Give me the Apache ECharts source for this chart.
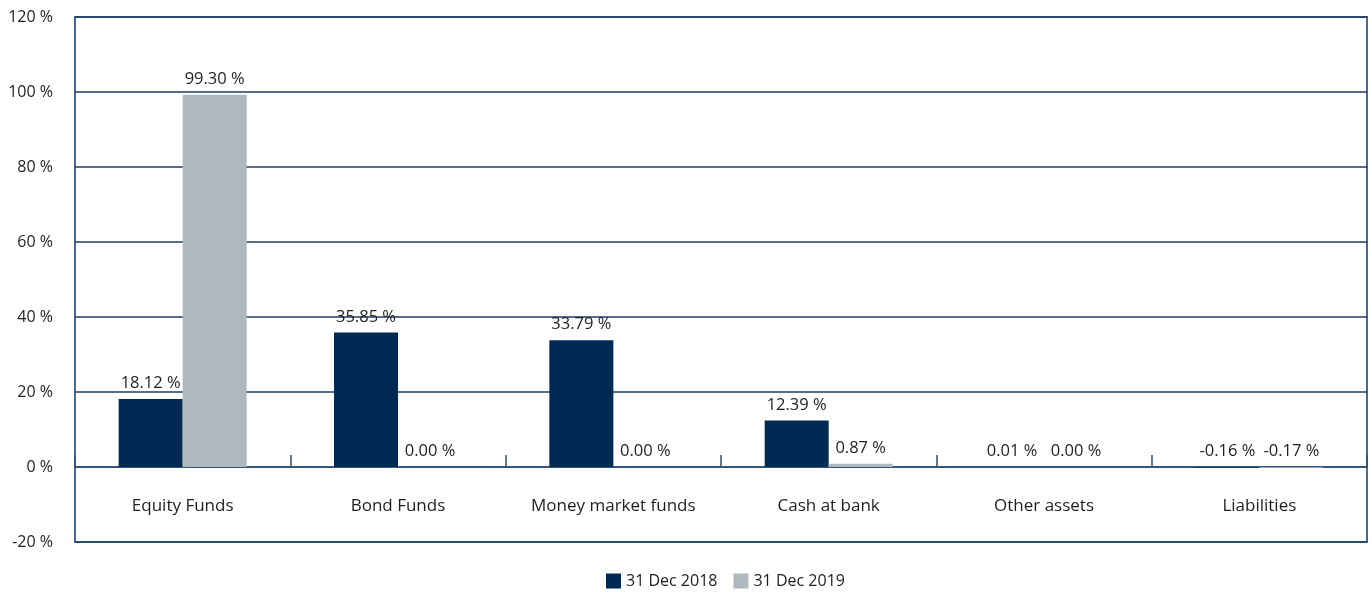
<!DOCTYPE html>
<html>
<head>
<meta charset="utf-8">
<script src="https://cdn.jsdelivr.net/npm/echarts@6/dist/echarts.min.js"></script>
<style>html,body{margin:0;padding:0;background:#fff}#c{width:1372px;height:592px}</style>
</head>
<body>
<div id="c"></div>
<script>
var categories = ['Equity Funds','Bond Funds','Money market funds','Cash at bank','Other assets','Liabilities'];
var series2018 = [18.12, 35.85, 33.79, 12.39, 0.01, -0.16];
var series2019 = [99.30, 0.00, 0.00, 0.87, 0.00, -0.17];
var seriesNames = ['31 Dec 2018','31 Dec 2019'];
var yTicks = {min: -20, max: 120, interval: 20};

var FONT = '"Open Sans", "Noto Sans", sans-serif';
var chart = echarts.init(document.getElementById('c'));
function fmt(p){ return p.value.toFixed(2) + ' %'; }
var labelCfg = {show:true, position:'top', distance:7, formatter:fmt, color:'#1e1e1e', fontSize:16.5, fontFamily:FONT};
chart.setOption({
  animation:false,
  grid:{left:75, right:5, top:17, bottom:50, show:true, borderColor:'#4b6a8f', borderWidth:2},
  legend:{
    data:seriesNames, top:568, left:601, itemWidth:15, itemHeight:15, itemGap:16,
    icon:'rect',
    textStyle:{color:'#1e1e1e', fontSize:16, fontFamily:FONT}
  },
  xAxis:{
    type:'category', data:categories,
    axisLine:{onZero:true, lineStyle:{color:'#2f4d72', width:1.5}},
    axisTick:{show:true, inside:true, length:12, lineStyle:{color:'#2f4d72', width:1.5}},
    axisLabel:{margin:-44, color:'#1e1e1e', fontSize:17, fontFamily:FONT},
    splitLine:{show:false}
  },
  yAxis:{
    type:'value', min:yTicks.min, max:yTicks.max, interval:yTicks.interval,
    axisLine:{show:false}, axisTick:{show:false},
    axisLabel:{formatter:'{value} %', margin:22, color:'#1e1e1e', fontSize:16, fontFamily:FONT},
    splitLine:{lineStyle:{color:'#1f3c62', width:1.5}}
  },
  series:[
    {name:seriesNames[0], type:'bar', data:series2018, barWidth:64, barGap:'0%',
     itemStyle:{color:'#002a54'}, label:labelCfg},
    {name:seriesNames[1], type:'bar', data:series2019, barWidth:64, barGap:'0%',
     itemStyle:{color:'#b0b8bf'}, label:labelCfg}
  ]
});
</script>
</body>
</html>
